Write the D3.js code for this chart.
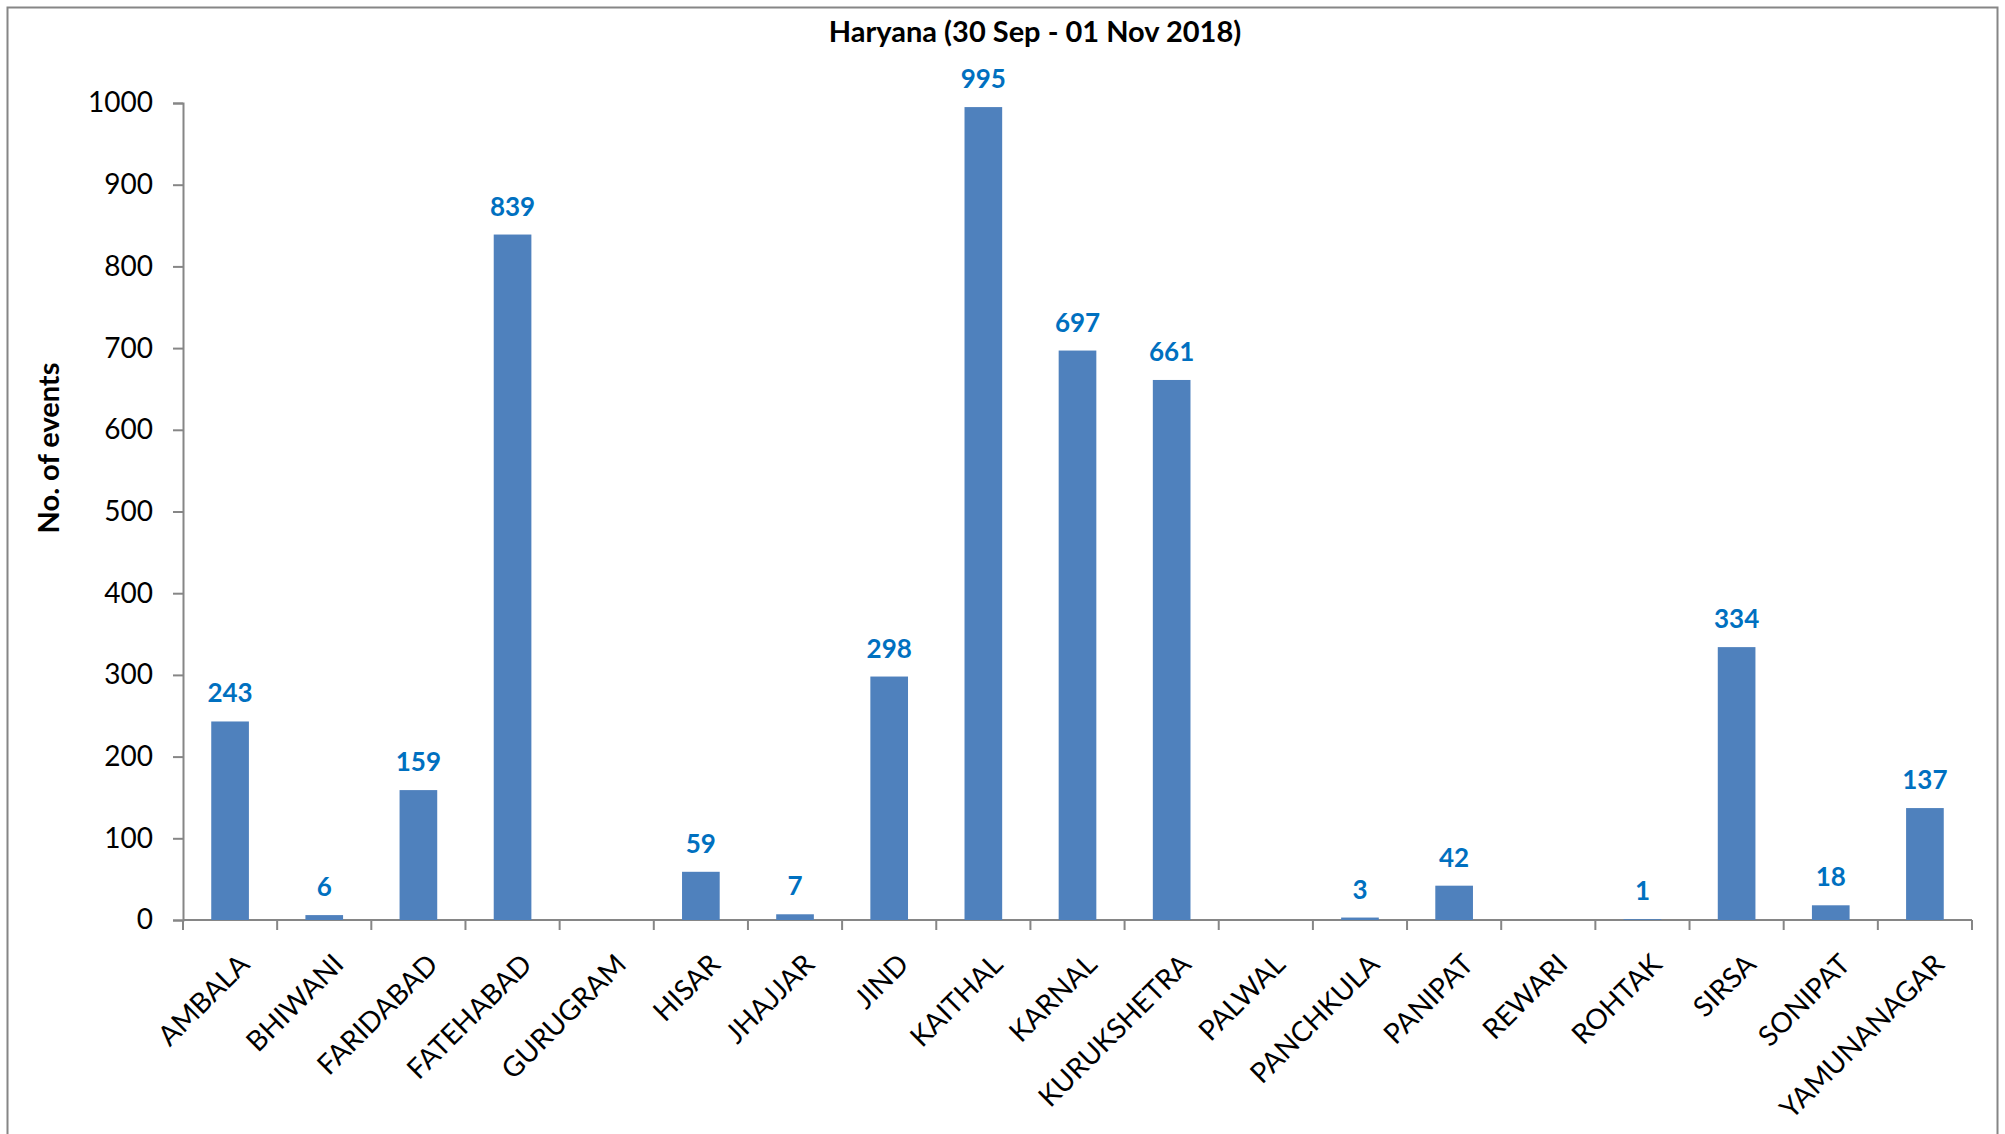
<!DOCTYPE html>
<html>
<head>
<meta charset="utf-8">
<script src="https://cdn.jsdelivr.net/npm/d3@7"></script>
<style>
  body { margin: 0; background: #fff; }
  text { font-family: Lato, "Open Sans", sans-serif; }
</style>
</head>
<body>
<div id="chart"></div>
<script>
var svgWidth = 2005;
var svgHeight = 1134;

var leftMargin = 183;
var rightMargin = 33;
var topMargin = 103;
var bottomMargin = 214;

var chartWidth = svgWidth - leftMargin - rightMargin;
var chartHeight = svgHeight - topMargin - bottomMargin;

var districts = ['AMBALA', 'BHIWANI', 'FARIDABAD', 'FATEHABAD', 'GURUGRAM', 'HISAR',
                 'JHAJJAR', 'JIND', 'KAITHAL', 'KARNAL', 'KURUKSHETRA', 'PALWAL',
                 'PANCHKULA', 'PANIPAT', 'REWARI', 'ROHTAK', 'SIRSA', 'SONIPAT', 'YAMUNANAGAR'];
// null = no events shown for that district
var events = [243, 6, 159, 839, null, 59, 7, 298, 995, 697, 661, null, 3, 42, null, 1, 334, 18, 137];
var yTicks = [0, 100, 200, 300, 400, 500, 600, 700, 800, 900, 1000];

var svg = d3.select('#chart')
    .append('svg')
    .attr('width', svgWidth)
    .attr('height', svgHeight);

// outer frame (bottom edge falls outside the picture)
svg.append('rect')
    .attr('x', 7.5)
    .attr('y', 7.5)
    .attr('width', 1990)
    .attr('height', 1140)
    .attr('fill', 'none')
    .attr('stroke', '#868686')
    .attr('stroke-width', 2);

svg.append('text')
    .attr('x', 1035)
    .attr('y', 42)
    .attr('text-anchor', 'middle')
    .attr('font-size', 29)
    .attr('font-weight', 'bold')
    .text('Haryana (30 Sep - 01 Nov 2018)');

var chart = svg.append('g')
    .attr('transform', `translate(${leftMargin}, ${topMargin})`);

var x = d3.scaleBand()
    .domain(districts)
    .range([0, 1789])
    .paddingInner(0.6)
    .paddingOuter(0.3);

var y = d3.scaleLinear()
    .domain([0, 1000])
    .range([chartHeight, 0]);

var yAxis = chart.append('g')
    .call(d3.axisLeft(y).tickValues(yTicks).tickFormat(d3.format('d')).tickSize(10).tickPadding(20));
yAxis.select('.domain').attr('stroke', '#868686').attr('stroke-width', 2);
yAxis.selectAll('.tick line').attr('stroke', '#868686').attr('stroke-width', 2);
yAxis.selectAll('.tick text')
    .attr('font-size', 28)
    .attr('fill', '#000')
    .attr('font-family', 'Lato, sans-serif');

// x axis with tick marks between categories
var xAxis = chart.append('g')
    .attr('transform', `translate(0, ${chartHeight})`);
xAxis.append('line')
    .attr('x1', 0)
    .attr('x2', 1789)
    .attr('stroke', '#868686')
    .attr('stroke-width', 2);

var step = x.step();
var boundaries = d3.range(districts.length + 1).map(i => x(districts[0]) + i * step - (step - x.bandwidth()) / 2);
xAxis.selectAll('.xtick')
    .data(boundaries)
    .enter()
    .append('line')
    .attr('x1', d => d)
    .attr('x2', d => d)
    .attr('y1', 0)
    .attr('y2', 10)
    .attr('stroke', '#868686')
    .attr('stroke-width', 2);

xAxis.selectAll('.xlabel')
    .data(districts)
    .enter()
    .append('text')
    .attr('text-anchor', 'end')
    .attr('font-size', 28)
    .attr('transform', d => `translate(${x(d) + x.bandwidth() / 2 + 7}, 32) rotate(-45)`)
    .attr('dy', '0.71em')
    .text(d => d);

var barData = districts.map((d, i) => ({name: d, value: events[i]})).filter(d => d.value !== null);

chart.selectAll('.bar')
    .data(barData)
    .enter()
    .append('rect')
    .attr('class', 'bar')
    .attr('x', d => x(d.name))
    .attr('width', x.bandwidth())
    .attr('y', d => y(d.value))
    .attr('height', d => chartHeight - y(d.value))
    .attr('fill', '#4F81BD');

chart.selectAll('.label')
    .data(barData)
    .enter()
    .append('text')
    .attr('class', 'label')
    .attr('x', d => x(d.name) + x.bandwidth() / 2)
    .attr('y', d => y(d.value) - 19)
    .attr('text-anchor', 'middle')
    .attr('font-size', 26)
    .attr('font-weight', 'bold')
    .attr('fill', '#0070C0')
    .text(d => d.value);

svg.append('text')
    .attr('transform', 'translate(59, 448) rotate(-90)')
    .attr('text-anchor', 'middle')
    .attr('font-size', 29)
    .attr('font-weight', 'bold')
    .text('No. of events');
</script>
</body>
</html>
